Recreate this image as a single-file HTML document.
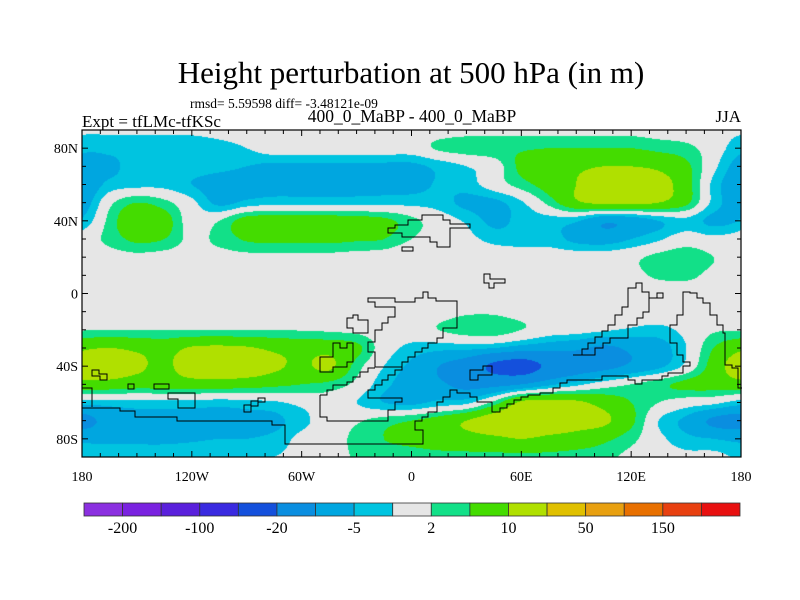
<!DOCTYPE html>
<html><head><meta charset="utf-8"><style>
html,body{margin:0;padding:0;background:#fff;width:800px;height:600px;overflow:hidden}
#wrap{position:relative;width:800px;height:600px}
canvas{position:absolute;left:82px;top:130px}
svg{position:absolute;left:0;top:0}
text{font-family:"Liberation Serif",serif;fill:#000}
</style></head><body>
<div id="wrap">
<canvas id="map" width="659" height="327"></canvas>
<svg id="svg" width="800" height="600">
<text x="411" y="83" text-anchor="middle" font-size="31">Height perturbation at 500 hPa (in m)</text>
<text x="190" y="108" font-size="13.5">rmsd= 5.59598 diff= -3.48121e-09</text>
<text x="82" y="127" font-size="17">Expt = tfLMc-tfKSc</text>
<text x="412" y="122" text-anchor="middle" font-size="17.5">400_0_MaBP - 400_0_MaBP</text>
<text x="741" y="122" text-anchor="end" font-size="17">JJA</text>
<g id="coast" fill="none" stroke="#000" stroke-width="1">
<path d="M410,220H422V215H443V220H450V224H470V228H450V247H437V242H430V237H420H402V233H388V228H395V225H408V220H420"/>
<path d="M402,247H413V251H402Z"/>
<path d="M484,274H490V279H505V283H494V288H489V283H484Z"/>
<path d="M368,298H395V302H415V298H423V292H428V298H436V301H457V328H443V338H437V343H428V348H422V352H415V357H408V362H402V367H375V362H375V352H368V342H375V330H382V323H388V317H395V307H375V302H368Z"/>
<path d="M347,318H353V315H358V320H368V333H353V328H347Z"/>
<path d="M320,372H333V367H347V362H353V357H353V343H347V348H340V343H333V357H320Z"/>
<path d="M320,395V417H327V421H388V410H395V402H402V398H368V390H375V385H382V380H388V375H395V370H402V367"/>
<path d="M320,395H327V390H333V385H347V382H353V377H360V372H368V368H375"/>
<path d="M470,370H483V366H492V375H478V380H470Z"/>
<path d="M82,408H120V411H135V417H177V421H272V425H285V444H423V430H415V421H422V417H428V412H437V402H443V397H450V390H457V393H470V397H477V402H492V412H500V408H507V404H514V400H521V397H528V395H540V393H553V388H560V383H567V380H602V376H628V380H635V384H642V380H662V376H668V373H683V366H690V362H683V355H677V343H670V325H677V315H683V292H690V293H697V298H703V303H710V315H717V325H723V333H725V365H732V368H738V388H742"/>
<path d="M573,355H582V349H588V343H595V337H602V331H608V325H615V315H622V307H628V288H636V283H642V292H649V298H657V293H663V298H649V312H643V318H637V325H628V338H610V343H603V348H595V355Z"/>
<path d="M92,370H99V374H107V380H100V376H92Z"/>
<path d="M128,384H134V389H128Z"/>
<path d="M154,384H169V389H154Z"/>
<path d="M168,393H195V408H178V399H168Z"/>
<path d="M244,405H251V401H258V398H265V402H258V406H251V412H244Z"/>
<path d="M82,388H92V407"/>
</g>
<g id="axes"></g>
<g id="cbar"></g>
</svg>
</div>
<script>
// ---- data: height perturbation (m) on a 15deg lon x 10deg lat grid ----
const lons = [-180,-165,-150,-135,-120,-105,-90,-75,-60,-45,-30,-15,0,15,30,45,60,75,90,105,120,135,150,165,180];
const lats = [90,80,70,60,50,40,30,20,10,0,-10,-20,-30,-40,-50,-60,-70,-80,-90];
const rowN90 = [-1.5,-1.5,-1.5,-1.5,-1.5,-1,-0.5,0,0,0,0,0,0,0.5,1,1,1,1,1,1,1,0.5,0,-1,-1.5];
const rowN80 = [-4,-4,-3.5,-3.5,-3.5,-3,-2,0,0,0,0,0,0,2.5,3.5,4,4.5,5,5,5,5,4,3,0,-4];
const rowN70 = [-7,-6,-3.5,-3.5,-3.5,-4,-5,-6,-6,-6,-6,-6,-6,-4,-2,0,6,8,9,10,10,9,6,-1,-7];
const rowN60 = [-8,-4,-3,-3,-5,-7,-7,-7,-7,-7,-7,-6.5,-6.5,-4.5,-3.5,0,3.5,7,10,13,13,12,7,-3,-8];
const rowN50 = [-7,1,5,3,-1,-6,-4,-3,-3,-3,-3,-3,-3,-3.5,-6,-6,-2.5,3,9,11,11,10,6,-3,-7];
const rowN40 = [-4.5,3,9,7,0,2,7,7.5,8,7.5,7,6,3,0,-2.5,-6,-4,-3.5,-4.5,-9,-8,-5,-3,-6,-4.5];
const rowN30 = [0,3,6,5,1,3,5.5,6,6,6,5.5,5,2,0,-1,-3,-3.5,-3.5,-6,-7,-5,-2.5,0,-1,0];
const rowN20 = [0,0.5,1,0.5,0,0.5,1,1,1,1,0.5,0,-1.5,0,0,0,0,0,0,0,1,3,4,2,0];
const rowN10 = [0,0,0,0,0,0,0,0,0,0,0,0,0,0,0,0,0,0,0,0,1,2.5,2.8,1,0];
const rowEq  = [0,0,0,0,0,0,0,0,0,0,0,0,0,0,0,0,0,0,0,0,0,0,0,0,0];
const rowS10 = [0,0,0,0,0,0,0,0,0,0,0,0,0,0.5,1.5,1.5,0.5,0,0,0,0,0,0,0,0];
const rowS20 = [1.8,2,2,2,2,2,2,2,1.8,1.5,1,0,0,2,3.5,3.8,2,0,-0.5,-1.5,-2.5,-3,-1,1.5,1.8];
const rowS30 = [9,10,9,8,10.5,11,10.5,9,8,8,6,0,-3,-4,-4,-5,-7,-8,-9,-11,-9,-7,-2,5,9];
const rowS40 = [13,13,11,9,13,14,13.5,11,9,11,3.5,-2,-6,-10,-14,-22,-25,-18,-14,-12,-9,-6,-1,7,13];
const rowS50 = [8,8,7,7,7.5,7.5,7,6,5,4,1,-4,-7,-9,-12,-12,-10,-6,-3,0,2,4,6,7,8];
const rowS60 = [-3.5,-3.5,-3,-3,-3,-3.5,-3,-2.5,-1,0,-2,-5,-6,-4,-3,3,11,12,11,8,5,2,0,-1,-3.5];
const rowS70 = [-12,-8,-7,-7,-7,-7,-6.5,-6,-3,0,1.5,3.5,5,7,10,13,13,13,12,11,6,-2,-6,-11,-12];
const rowS80 = [-6,-6,-6,-6,-5.5,-5,-5,-4,-1,0,3,5,6,7,8,9,10,9,8,6,3,-1,-4,-5,-6];
const rowS90 = [-2.5,-2.5,-2.5,-2.5,-2.5,-2.5,-2.5,-2,-1,0,2.5,3,3.5,4,4,4,4,4,3.5,3,1,0,-1,-1,-2.5];
const grid = [rowN90,rowN80,rowN70,rowN60,rowN50,rowN40,rowN30,rowN20,rowN10,rowEq,rowS10,rowS20,rowS30,rowS40,rowS50,rowS60,rowS70,rowS80,rowS90];
const levels = [-200,-150,-100,-50,-20,-10,-5,-2,2,5,10,20,50,100,150,200];
const levelLabels = ['-200','-100','-20','-5','2','10','50','150'];
const fillColors = ['#8b30e0','#7a22e0','#5a20dc','#3a2ae0','#1450dc','#0a8ee0','#00a6e0','#00c4e0','#e6e6e6','#12e088','#44dc00','#b0e000','#e0c000','#e8a010','#e87000','#e84010','#e81010'];
const latTicks = [80,40,0,-40,-80];
const latTickLabels = ['80N','40N','0','40S','80S'];
const lonTicks = [-180,-120,-60,0,60,120,180];
const lonTickLabels = ['180','120W','60W','0','60E','120E','180'];

// ---- axis functions ----
const PX0=82, PX1=741, PY0=130, PY1=457;
const xOf = lon => PX0 + (lon+180)/360*(PX1-PX0);
const yOf = lat => PY0 + (90-lat)/180*(PY1-PY0);

function cr(p0,p1,p2,p3,t){return 0.5*((2*p1)+(-p0+p2)*t+(2*p0-5*p1+4*p2-p3)*t*t+(-p0+3*p1-3*p2+p3)*t*t*t);}
function gv(i,j){ i=Math.max(0,Math.min(lats.length-1,i)); const n=lons.length-1; j=((j%n)+n)%n; return grid[i][j]; }
function sample(lon,lat){
  const fj=(lon-lons[0])/(lons[1]-lons[0]); const fi=(lats[0]-lat)/(lats[0]-lats[1]);
  const j=Math.floor(fj), i=Math.floor(fi); const tj=fj-j, ti=fi-i;
  const r=[];
  for(let k=-1;k<=2;k++) r.push(cr(gv(i+k,j-1),gv(i+k,j),gv(i+k,j+1),gv(i+k,j+2),tj));
  return cr(r[0],r[1],r[2],r[3],ti);
}
function hex(c){return [parseInt(c.substr(1,2),16),parseInt(c.substr(3,2),16),parseInt(c.substr(5,2),16)];}
const rgb = fillColors.map(hex);
function cls(v){let k=0; while(k<levels.length && v>=levels[k]) k++; return k;}

// ---- draw contour field ----
const cv=document.getElementById('map'); const ctx=cv.getContext('2d');
const W=cv.width, H=cv.height; const img=ctx.createImageData(W,H);
for(let py=0;py<H;py++){
  const lat=90-(py+0.5)/H*180;
  for(let px=0;px<W;px++){
    const lon=-180+(px+0.5)/W*360;
    const c=rgb[cls(sample(lon,lat))]; const o=(py*W+px)*4;
    img.data[o]=c[0]; img.data[o+1]=c[1]; img.data[o+2]=c[2]; img.data[o+3]=255;
  }
}
ctx.putImageData(img,0,0);

// ---- axes ----
const NS='http://www.w3.org/2000/svg';
function mk(tag,attrs,parent){const e=document.createElementNS(NS,tag); for(const k in attrs) e.setAttribute(k,attrs[k]); parent.appendChild(e); return e;}
const ax=document.getElementById('axes');
const frame=mk('rect',{x:PX0,y:PY0,width:PX1-PX0,height:PY1-PY0,fill:'none',stroke:'#000','stroke-width':1.2},ax);


for(let lat=-80;lat<=80;lat+=10){
  const major = lat%40===0; const L = major?6:4; const y=yOf(lat);
  const t1=mk('line',{x1:PX0,x2:PX0+L,y1:y,y2:y,stroke:'#000'},ax);
  
  
  const t2=mk('line',{x1:PX1,x2:PX1-L,y1:y,y2:y,stroke:'#000'},ax);
  
  
}
for(let lon=-170;lon<=170;lon+=10){
  const major = lon%60===0; const L = major?6:4; const x=xOf(lon);
  const t1=mk('line',{x1:x,x2:x,y1:PY1,y2:PY1-L,stroke:'#000'},ax);
  
  
  const t2=mk('line',{x1:x,x2:x,y1:PY0,y2:PY0+L,stroke:'#000'},ax);
  
  
}
latTicks.forEach((lat,i)=>{
  const t=mk('text',{x:PX0-4,y:yOf(lat)+5,'text-anchor':'end','font-size':14},ax); t.textContent=latTickLabels[i];
  
  
});
lonTicks.forEach((lon,i)=>{
  const t=mk('text',{x:xOf(lon),y:481,'text-anchor':'middle','font-size':14},ax); t.textContent=lonTickLabels[i];
  
  
});

// ---- colorbar ----
const cb=document.getElementById('cbar');
const CB0=84, CB1=740, CBY=503, CBH=13; const bw=(CB1-CB0)/fillColors.length;
fillColors.forEach((c,i)=>{
  const r=mk('rect',{x:CB0+i*bw,y:CBY,width:bw,height:CBH,fill:c,stroke:'#333','stroke-width':0.8},cb);
  
  
});
levelLabels.forEach((lab,k)=>{
  const t=mk('text',{x:CB0+(2*k+1)*bw,y:533,'text-anchor':'middle','font-size':16},cb); t.textContent=lab;
  
  
});
</script>
</body></html>
